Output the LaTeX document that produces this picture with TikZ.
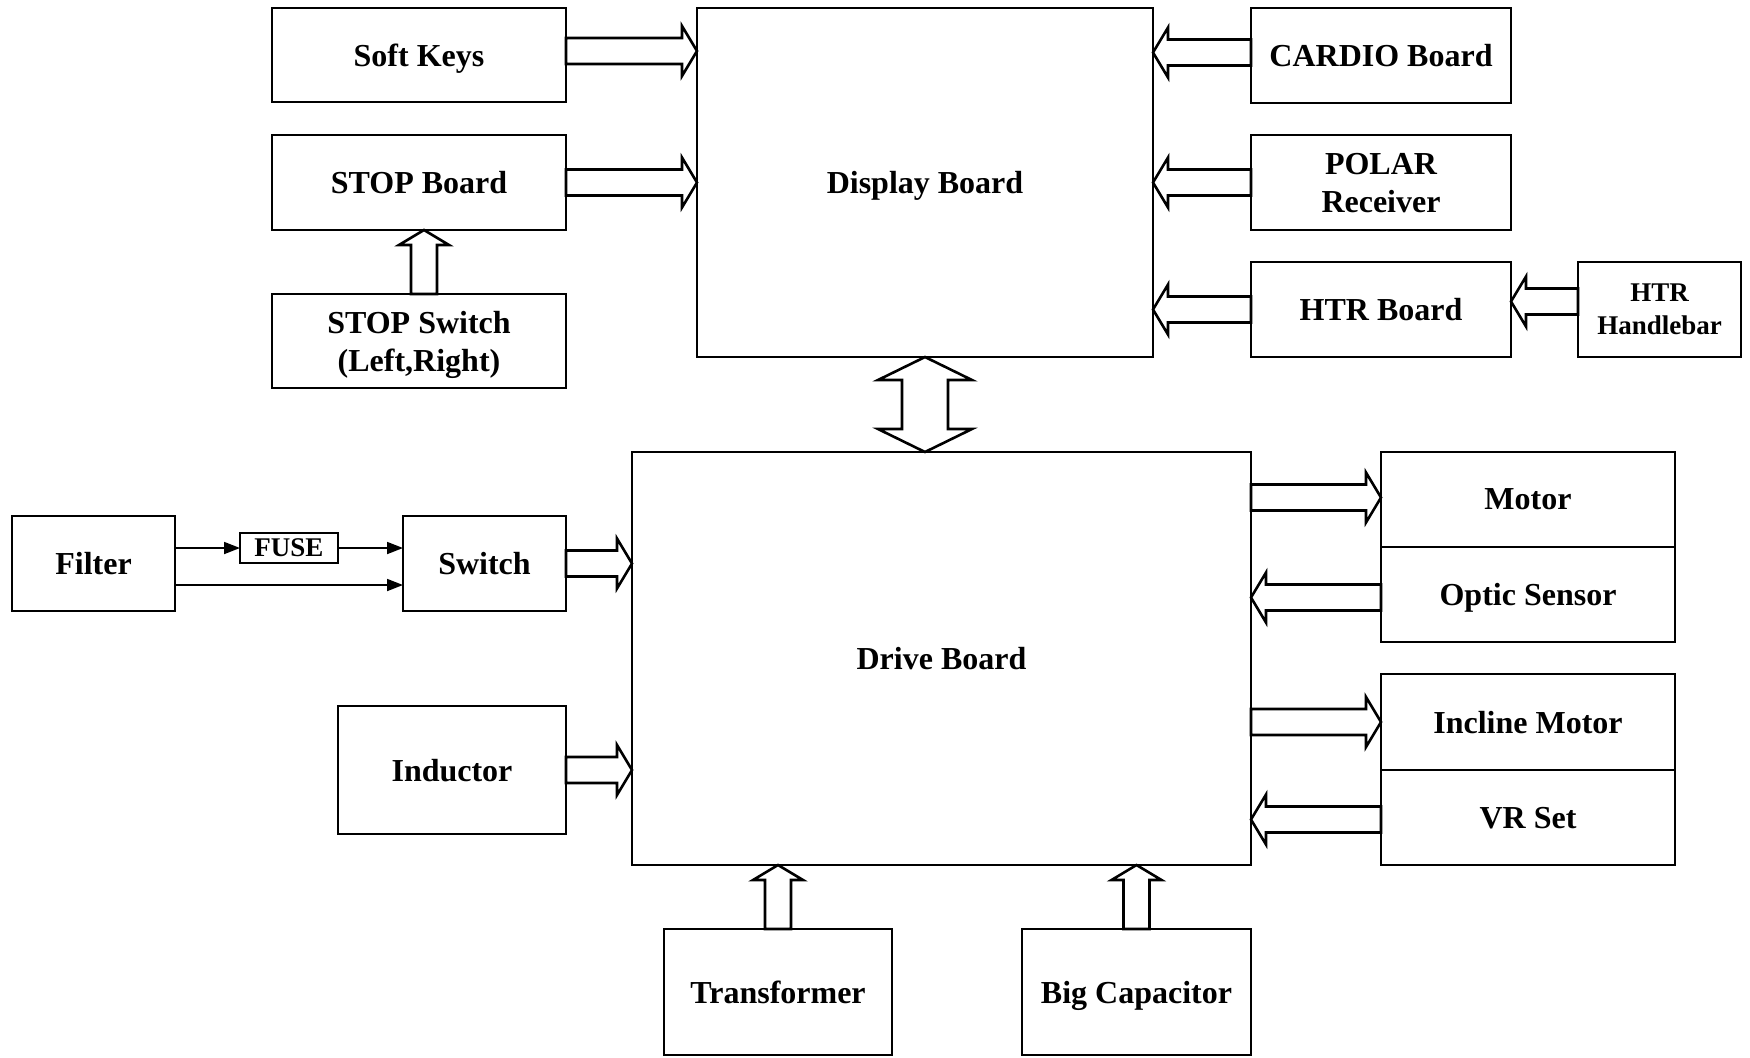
\documentclass[tikz,border=0pt]{standalone}
\usepackage{fontspec}
\setmainfont{Liberation Serif}
\usetikzlibrary{calc,arrows.meta}

\tikzset{
  box/.style={draw, line width=0.85pt, inner sep=0pt, outer sep=0pt, align=center,
    text depth=0pt, font=\fontsize{16}{19}\selectfont\bfseries},
  smallbox/.style={box, font=\fontsize{13.5}{16.5}\selectfont\bfseries},
  blockline/.style={draw, line width=1.3pt, line join=miter},
  thinarrow/.style={line width=0.9pt, -{Triangle[length=8pt,width=6pt]}},
}

% box from corner (x1,y1) to (x2,y2), in pixel units, y downward
\newcommand\bx[7][box]{%
  \node[#1, minimum width={(#5-#3)*0.5pt}, minimum height={(#6-#4)*0.5pt}]
    (#2) at ({(#3+#5)/2},{(#4+#6)/2}) {#7};}

% hollow block arrow from #2 to #3
\newcommand\hollowarrow[3][]{%
  \path (#2) coordinate (ha-s) (#3) coordinate (ha-e);
  \path ($(ha-e)!7.5pt!(ha-s)$) coordinate (ha-h);
  \draw[blockline,#1]
    ($(ha-s)!6.5pt!90:(ha-e)$) -- ($(ha-h)!6.5pt!-90:(ha-s)$)
    -- ($(ha-h)!12.5pt!-90:(ha-s)$) -- (ha-e)
    -- ($(ha-h)!12.5pt!90:(ha-s)$) -- ($(ha-h)!6.5pt!90:(ha-s)$)
    -- ($(ha-s)!6.5pt!-90:(ha-e)$) -- cycle;}

\begin{document}
\begin{tikzpicture}[x=0.5pt,y=-0.5pt]
\useasboundingbox (0,0) rectangle (1750,1057);

% upper part: display board and its inputs
\bx{soft}{272}{8}{566}{102}{Soft Keys}
\bx{stopb}{272}{135}{566}{230}{STOP Board}
\bx{stops}{272}{294}{566}{388}{STOP Switch\\(Left,Right)}
\bx{disp}{697}{8}{1153}{357}{Display Board}
\bx{cardio}{1251}{8}{1511}{103}{CARDIO Board}
\bx{polar}{1251}{135}{1511}{230}{POLAR\\Receiver}
\bx{htr}{1251}{262}{1511}{357}{HTR Board}
\bx[smallbox]{hbar}{1578}{262}{1741}{357}{HTR\\Handlebar}

% lower part: drive board and its peripherals
\bx{drive}{632}{452}{1251}{865}{Drive Board}
\bx{motor}{1381}{452}{1675}{547}{Motor}
\bx{optic}{1381}{547}{1675}{642}{Optic Sensor}
\bx{incl}{1381}{674}{1675}{770}{Incline Motor}
\bx{vr}{1381}{770}{1675}{865}{VR Set}
\bx{filter}{12}{516}{175}{611}{Filter}
\bx[smallbox]{fuse}{240}{533}{338}{563}{FUSE}
\bx{switch}{403}{516}{566}{611}{Switch}
\bx{induct}{338}{706}{566}{834}{Inductor}
\bx{trans}{664}{929}{892}{1055}{Transformer}
\bx{bigcap}{1022}{929}{1251}{1055}{Big Capacitor}

% block arrows into the display board
\hollowarrow{[yshift=2pt]soft.east}{[yshift=2pt]soft.east -| disp.west}
\hollowarrow{stopb.east}{stopb.east -| disp.west}
\hollowarrow{[xshift=2.5pt]stops.north}{[xshift=2.5pt]stops.north |- stopb.south}
\hollowarrow{[yshift=1.5pt]cardio.west}{[yshift=1.5pt]cardio.west -| disp.east}
\hollowarrow{polar.west}{polar.west -| disp.east}
\hollowarrow{htr.west}{htr.west -| disp.east}
\hollowarrow{[yshift=4pt]hbar.west}{[yshift=4pt]hbar.west -| htr.east}

% two-way link between display board and drive board
\path (disp.south) coordinate (da-s) (disp.south |- drive.north) coordinate (da-e);
\path ($(da-s)!11.5pt!(da-e)$) coordinate (da-h1) ($(da-e)!11.5pt!(da-s)$) coordinate (da-h2);
\draw[blockline] (da-s)
  -- ($(da-h1)!23.5pt!90:(da-e)$) -- ($(da-h1)!11.5pt!90:(da-e)$)
  -- ($(da-h2)!11.5pt!-90:(da-s)$) -- ($(da-h2)!23.5pt!-90:(da-s)$)
  -- (da-e)
  -- ($(da-h2)!23.5pt!90:(da-s)$) -- ($(da-h2)!11.5pt!90:(da-s)$)
  -- ($(da-h1)!11.5pt!-90:(da-e)$) -- ($(da-h1)!23.5pt!-90:(da-e)$)
  -- cycle;

% block arrows around the drive board
\hollowarrow{switch.east}{switch.east -| drive.west}
\hollowarrow{induct.east}{induct.east -| drive.west}
\hollowarrow{[yshift=1pt]drive.east |- motor.west}{[yshift=1pt]motor.west}
\hollowarrow{[yshift=-1.5pt]optic.west}{[yshift=-1.5pt]optic.west -| drive.east}
\hollowarrow{drive.east |- incl.west}{incl.west}
\hollowarrow{[yshift=-1pt]vr.west}{[yshift=-1pt]vr.west -| drive.east}
\hollowarrow{trans.north}{trans.north |- drive.south}
\hollowarrow{bigcap.north}{bigcap.north |- drive.south}

% mains wiring: filter, fuse, switch
\draw[thinarrow] (filter.east |- fuse.west) -- (fuse.west);
\draw[thinarrow] (fuse.east) -- (fuse.east -| switch.west);
\coordinate (lowtap) at ([yshift=-10.75pt]filter.east);
\draw[thinarrow] (lowtap) -- (lowtap -| switch.west);

\end{tikzpicture}
\end{document}
